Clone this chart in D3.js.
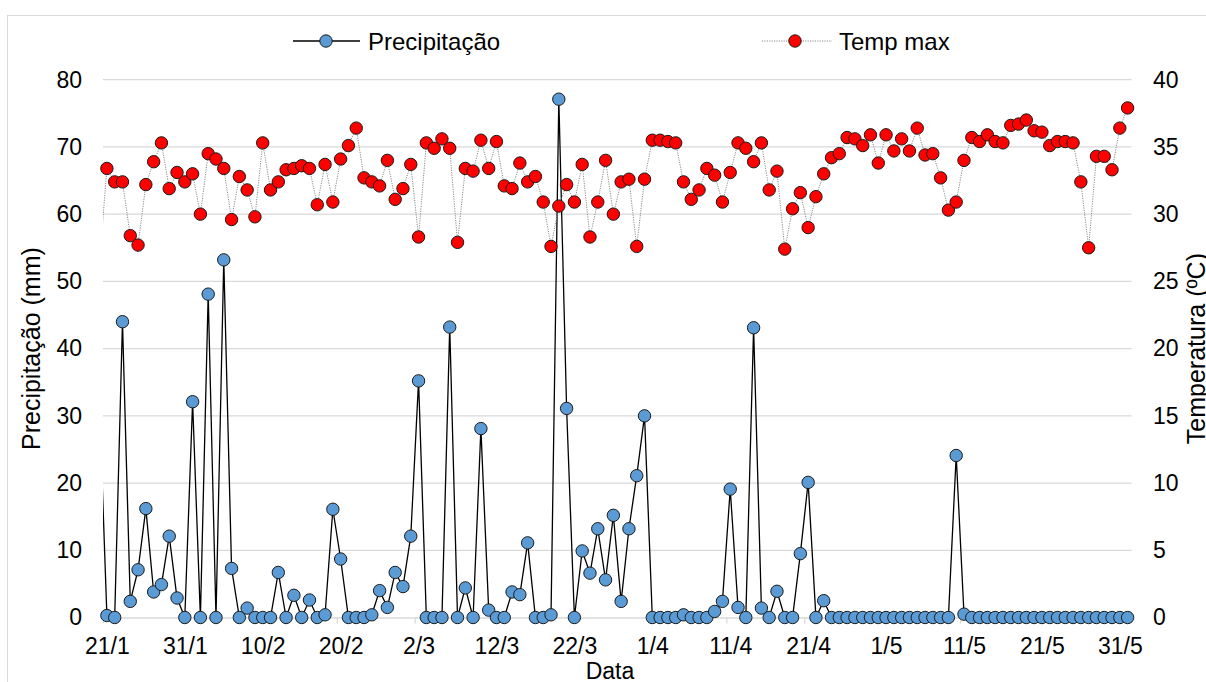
<!DOCTYPE html>
<html>
<head>
<meta charset="utf-8">
<script src="https://cdn.jsdelivr.net/npm/d3@7"></script>
<style>
  body { margin: 0; background: #fff; }
  svg text { font-family: "Liberation Sans", Arial, sans-serif; fill: #000; }
</style>
</head>
<body>
<div id="chart"></div>
<script>
var width = 1206;
var height = 682;

// daily series, first day is 20/1 (it sits just left of the plot, only its line shows)
var startDay = "20/1";

var precip = [
  33,
  0.3, 0, 44, 2.4, 7.1, 16.2, 3.8, 4.9, 12.1, 2.9, 0, 32.1, 0, 48.1, 0, 53.2, 7.3, 0, 1.4, 0, 0, 0,
  6.7, 0, 3.3, 0, 2.6, 0, 0.4, 16.1, 8.7, 0, 0, 0, 0.4, 4.0, 1.5, 6.7, 4.6, 12.1, 35.2, 0, 0, 0,
  43.2, 0, 4.4, 0, 28.1, 1.1, 0, 0, 3.8, 3.4, 11.1, 0, 0, 0.4, 77.1, 31.1, 0, 9.9, 6.6, 13.2, 5.6, 15.2,
  2.4, 13.2, 21.1, 30.0, 0, 0, 0, 0, 0.4, 0, 0, 0, 0.9, 2.4, 19.1, 1.5, 0, 43.1, 1.4, 0, 3.9, 0,
  0, 9.5, 20.1, 0, 2.5, 0, 0, 0, 0, 0, 0, 0, 0, 0, 0, 0, 0, 0, 0, 0, 0, 24.1,
  0.5, 0, 0, 0, 0, 0, 0, 0, 0, 0, 0, 0, 0, 0, 0, 0, 0, 0, 0, 0, 0, 0
];

var tempMax = [
  26,
  33.4, 32.4, 32.4, 28.4, 27.7, 32.2, 33.9, 35.3, 31.9, 33.1, 32.4, 33.0, 30.0, 34.5, 34.1, 33.4, 29.6, 32.8, 31.8, 29.8, 35.3, 31.8,
  32.4, 33.3, 33.4, 33.6, 33.4, 30.7, 33.7, 30.9, 34.1, 35.1, 36.4, 32.7, 32.4, 32.1, 34.0, 31.1, 31.9, 33.7, 28.3, 35.3, 34.9, 35.6,
  34.9, 27.9, 33.4, 33.2, 35.5, 33.4, 35.4, 32.1, 31.9, 33.8, 32.4, 32.8, 30.9, 27.6, 30.6, 32.2, 30.9, 33.7, 28.3, 30.9, 34.0, 30.0,
  32.4, 32.6, 27.6, 32.6, 35.5, 35.5, 35.4, 35.3, 32.4, 31.1, 31.8, 33.4, 32.9, 30.9, 33.1, 35.3, 34.9, 33.9, 35.3, 31.8, 33.2, 27.4,
  30.4, 31.6, 29.0, 31.3, 33.0, 34.2, 34.5, 35.7, 35.6, 35.1, 35.9, 33.8, 35.9, 34.7, 35.6, 34.7, 36.4, 34.4, 34.5, 32.7, 30.3, 30.9,
  34.0, 35.7, 35.4, 35.9, 35.4, 35.3, 36.6, 36.7, 37.0, 36.2, 36.1, 35.1, 35.4, 35.4, 35.3, 32.4, 27.5, 34.3, 34.3, 33.3, 36.4, 37.9
];

var tickLabels = ["21/1", "31/1", "10/2", "20/2", "2/3", "12/3", "22/3", "1/4", "11/4", "21/4", "1/5", "11/5", "21/5", "31/5"];
var precipTicks = [0, 10, 20, 30, 40, 50, 60, 70, 80];
var tempTicks = [0, 5, 10, 15, 20, 25, 30, 35, 40];
var seriesNames = ["Precipitação", "Temp max"];

var parseDay = d3.utcParse("%d/%m/%Y");
function toDate(s) { return parseDay(s + "/2021"); }

var first = toDate(startDay);
var dates = d3.utcDay.range(first, d3.utcDay.offset(first, precip.length));
var data = dates.map(function (d, i) {
  return { date: d, p: precip[i], t: tempMax[i] };
});

// plot area
var plotLeft = 103, plotRight = 1131.5, plotTop = 79.7, plotBottom = 617.5;

var x = d3.scaleUtc()
  .domain([d3.utcHour.offset(toDate(tickLabels[0]), -12), d3.utcHour.offset(dates[dates.length - 1], 12)])
  .range([plotLeft, plotRight]);
var yP = d3.scaleLinear().domain([0, 80]).range([plotBottom, plotTop]);
var yT = d3.scaleLinear().domain([0, 40]).range([plotBottom, plotTop]);

var svg = d3.select("#chart").append("svg")
  .attr("width", width)
  .attr("height", height);

svg.append("rect")
  .attr("x", 7.5).attr("y", 15.5)
  .attr("width", 1250).attr("height", 720)
  .attr("fill", "#fff")
  .attr("stroke", "#d9d9d9");

svg.append("clipPath").attr("id", "plotclip")
  .append("rect")
  .attr("x", plotLeft).attr("y", 0)
  .attr("width", plotRight - plotLeft).attr("height", height);

// gridlines
svg.append("g").selectAll("line")
  .data(precipTicks.filter(function (v) { return v > 0; }))
  .enter().append("line")
  .attr("x1", plotLeft).attr("x2", plotRight)
  .attr("y1", function (v) { return yP(v); })
  .attr("y2", function (v) { return yP(v); })
  .attr("stroke", "#d9d9d9")
  .attr("stroke-width", 1.3);

// y axes
var yAxisL = svg.append("g")
  .attr("transform", "translate(" + plotLeft + ",0)")
  .call(d3.axisLeft(yP).tickValues(precipTicks).tickSize(0).tickPadding(21));
var yAxisR = svg.append("g")
  .attr("transform", "translate(" + plotRight + ",0)")
  .call(d3.axisRight(yT).tickValues(tempTicks).tickSize(0).tickPadding(21.5));
[yAxisL, yAxisR].forEach(function (g) {
  g.select(".domain").remove();
  g.attr("font-size", 23).attr("font-family", null);
});

// x axis: tick marks between days, labels on the days
var tickDates = tickLabels.map(function (s) { return d3.utcHour.offset(toDate(s), -12); });
var xTicks = svg.append("g")
  .attr("transform", "translate(0," + plotBottom + ")")
  .call(d3.axisBottom(x).tickValues(tickDates).tickSize(6).tickSizeOuter(0).tickFormat(""));
xTicks.selectAll("line, path").attr("stroke", "#d9d9d9").attr("stroke-width", 1.3);

var xAxis = svg.append("g")
  .attr("transform", "translate(0," + plotBottom + ")")
  .call(d3.axisBottom(x)
    .tickValues(tickLabels.map(toDate))
    .tickSize(0)
    .tickPadding(20)
    .tickFormat(function (d, i) { return tickLabels[i]; }));
xAxis.select(".domain").remove();
xAxis.attr("font-size", 23).attr("font-family", null);

// axis titles
var midY = (plotTop + plotBottom) / 2;
svg.append("text")
  .attr("transform", "translate(40," + midY + ") rotate(-90)")
  .attr("text-anchor", "middle")
  .attr("font-size", 25)
  .text("Precipitação (mm)");
svg.append("text")
  .attr("transform", "translate(1205," + midY + ") rotate(-90)")
  .attr("text-anchor", "middle")
  .attr("font-size", 25)
  .text("Temperatura (ºC)");
svg.append("text")
  .attr("x", 610).attr("y", 679)
  .attr("text-anchor", "middle")
  .attr("font-size", 23)
  .text("Data");

// series
var inside = data.filter(function (d) { return x(d.date) >= plotLeft && x(d.date) <= plotRight; });

var lineP = d3.line().x(function (d) { return x(d.date); }).y(function (d) { return yP(d.p); });
var lineT = d3.line().x(function (d) { return x(d.date); }).y(function (d) { return yT(d.t); });

svg.append("path")
  .datum(data)
  .attr("clip-path", "url(#plotclip)")
  .attr("d", lineP)
  .attr("fill", "none")
  .attr("stroke", "#000")
  .attr("stroke-width", 1.3);

svg.append("g").selectAll("circle")
  .data(inside).enter().append("circle")
  .attr("cx", function (d) { return x(d.date); })
  .attr("cy", function (d) { return yP(d.p); })
  .attr("r", 6.2)
  .attr("fill", "#5b9bd5")
  .attr("stroke", "#1a1a1a")
  .attr("stroke-width", 1);

svg.append("path")
  .datum(data)
  .attr("clip-path", "url(#plotclip)")
  .attr("d", lineT)
  .attr("fill", "none")
  .attr("stroke", "#8c8c8c")
  .attr("stroke-width", 1)
  .attr("stroke-dasharray", "1.2,1.2");

svg.append("g").selectAll("circle")
  .data(inside).enter().append("circle")
  .attr("cx", function (d) { return x(d.date); })
  .attr("cy", function (d) { return yT(d.t); })
  .attr("r", 6.2)
  .attr("fill", "#ff0000")
  .attr("stroke", "#1a1a1a")
  .attr("stroke-width", 1);

// legend
var legend = svg.append("g");
var lp = legend.append("g").attr("transform", "translate(293,41)");
lp.append("line").attr("x1", 0).attr("x2", 67).attr("stroke", "#000").attr("stroke-width", 1.3);
lp.append("circle").attr("cx", 33).attr("r", 6.2).attr("fill", "#5b9bd5").attr("stroke", "#1a1a1a");
lp.append("text").attr("x", 75).attr("y", 8.5).attr("font-size", 24).text(seriesNames[0]);

var lt = legend.append("g").attr("transform", "translate(762,41)");
lt.append("line").attr("x1", 0).attr("x2", 70).attr("stroke", "#8c8c8c").attr("stroke-dasharray", "1.2,1.2");
lt.append("circle").attr("cx", 33).attr("r", 6.2).attr("fill", "#ff0000").attr("stroke", "#1a1a1a");
lt.append("text").attr("x", 77).attr("y", 8.5).attr("font-size", 24).text(seriesNames[1]);
</script>
</body>
</html>
